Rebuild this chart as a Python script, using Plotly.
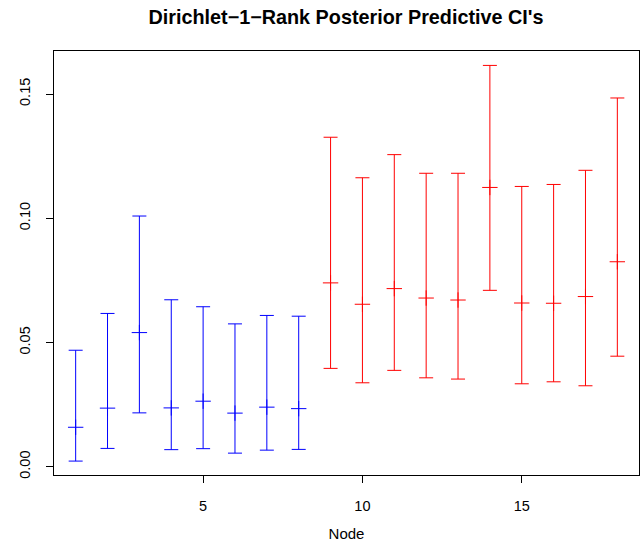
import plotly.graph_objects as go

nodes = list(range(1, 19))
mid = [0.0159, 0.0236, 0.0540, 0.0237, 0.0264, 0.0216, 0.0240, 0.0234,
       0.0740, 0.0654, 0.0717, 0.0679, 0.0671, 0.1124, 0.0659, 0.0658, 0.0685, 0.0825]
upper = [0.0469, 0.0617, 0.1009, 0.0672, 0.0644, 0.0575, 0.0609, 0.0606,
         0.1326, 0.1163, 0.1256, 0.1181, 0.1181, 0.1615, 0.1128, 0.1136, 0.1193, 0.1484]
lower = [0.0023, 0.0074, 0.0217, 0.0069, 0.0073, 0.0055, 0.0067, 0.0070,
         0.0396, 0.0338, 0.0388, 0.0358, 0.0353, 0.0710, 0.0334, 0.0342, 0.0326, 0.0445]
group_split = 8
colors = ["blue", "red"]
x_ticks = [5, 10, 15]
y_ticks = [0.0, 0.05, 0.10, 0.15]

fig = go.Figure()
groups = [(0, group_split), (group_split, len(nodes))]
for (a, b), c in zip(groups, colors):
    xs = nodes[a:b]
    m = mid[a:b]
    up = [u - v for u, v in zip(upper[a:b], m)]
    lo = [v - l for v, l in zip(m, lower[a:b])]
    fig.add_trace(go.Scatter(
        x=xs, y=m, mode="markers",
        marker=dict(symbol="cross-thin", size=11, line=dict(color=c, width=1), color=c),
        error_y=dict(type="data", symmetric=False, array=up, arrayminus=lo,
                     color=c, thickness=1, width=7),
        showlegend=False, hoverinfo="skip"))

fig.update_layout(
    width=644, height=542,
    margin=dict(l=54, r=5, t=51, b=67),
    plot_bgcolor="white", paper_bgcolor="white",
    font=dict(family="Liberation Sans, Arial, sans-serif", size=14.5, color="black"),
    title=dict(text="<b>Dirichlet\u22121\u2212Rank Posterior Predictive CI's</b>",
               x=346 / 644, xanchor="center", y=1 - 17.5 / 542, yanchor="middle",
               font=dict(size=19.8, color="black")),
)
fig.update_xaxes(range=[0.32, 18.68], tickvals=x_ticks, ticks="outside", ticklen=7,
                 tickcolor="black", showline=True, linecolor="black", linewidth=1,
                 mirror=True, showgrid=False, zeroline=False, ticklabelstandoff=11,
                 tickfont=dict(size=14.5), automargin=False,
                 title=dict(text="Node", standoff=17, font=dict(size=15)))
fig.update_yaxes(range=[-0.0033, 0.1673], tickvals=y_ticks, tickformat=".2f",
                 tickangle=-90, ticks="outside", ticklen=7, tickcolor="black",
                 showline=True, linecolor="black", linewidth=1, mirror=True,
                 showgrid=False, zeroline=False, ticklabelstandoff=10,
                 tickfont=dict(size=14.5), automargin=False)

fig.write_html("out.html")
